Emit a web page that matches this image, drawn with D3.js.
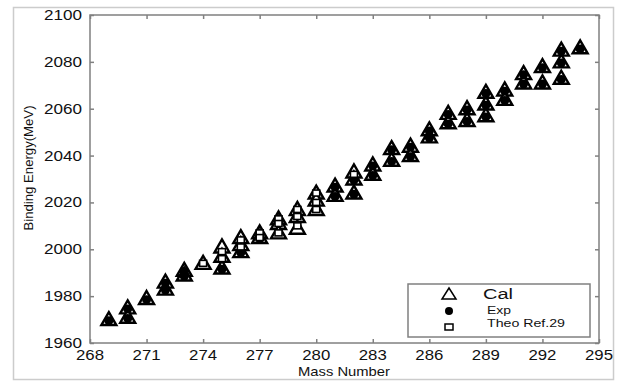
<!DOCTYPE html>
<html>
<head>
<meta charset="utf-8">
<script src="https://cdnjs.cloudflare.com/ajax/libs/d3/7.8.5/d3.min.js"></script>
<style>
  body { margin: 0; background: #fff; }
  text { font-family: "Liberation Sans", Arial, sans-serif; fill: #111; }
</style>
</head>
<body>
<div id="chart"></div>
<script>
// Calculated binding energies (triangles)
const calA  = [269, 270, 270, 271, 272, 272, 273, 273, 274, 275, 275, 275, 276, 276, 276, 277, 277,
               278, 278, 278, 279, 279, 279, 280, 280, 280, 281, 281, 282, 282, 282, 283, 283, 284, 284,
               285, 285, 286, 286, 287, 287, 288, 288, 289, 289, 289, 290, 290, 291, 291, 292, 292,
               293, 293, 293, 294];
const calBE = [1970, 1975, 1971, 1979, 1986, 1983, 1991, 1989, 1994, 2001, 1997, 1992, 2005, 2002, 1999, 2007, 2005,
               2013, 2011, 2007, 2017, 2014, 2009, 2024, 2021, 2017, 2027, 2023, 2033, 2030, 2024, 2036, 2032, 2043, 2038,
               2044, 2040, 2051, 2048, 2058, 2054, 2060, 2055, 2067, 2062, 2057, 2068, 2064, 2075, 2071, 2078, 2071,
               2085, 2080, 2073, 2086];
// Experimental (filled circles)
const expA  = [269, 270, 270, 271, 272, 272, 273, 273, 275, 276, 277, 281, 281, 282, 282, 283, 283, 284, 284, 285, 285,
               286, 286, 287, 287, 288, 288, 289, 289, 289, 290, 290, 291, 291, 292, 292, 293, 293, 293, 294];
const expBE = [1969.5, 1974.5, 1970.5, 1978.5, 1985.5, 1982.5, 1990.5, 1988.5, 1991.5, 1998.5, 2004.5,
               2026.5, 2022.5, 2029.5, 2023.5, 2035.5, 2031.5,
               2042.5, 2037.5, 2043.5, 2039.5, 2050.5, 2047.5, 2057.5, 2053.5, 2059.5, 2054.5, 2066.5, 2061.5, 2056.5,
               2067.5, 2063.5, 2074.5, 2070.5, 2077.5, 2070.5, 2084.5, 2079.5, 2072.5, 2085.5];
// Theoretical Ref.29 (open squares)
const theoA  = [274, 275, 275, 276, 276, 277, 277, 278, 278, 278, 279, 279, 279, 280, 280, 280, 282];
const theoBE = [1994, 1999, 1996, 2004, 2001, 2007, 2005, 2013, 2011, 2007, 2017, 2014, 2010, 2024, 2020, 2017, 2032];

const xTicks = [268, 271, 274, 277, 280, 283, 286, 289, 292, 295];
const yTicks = [1960, 1980, 2000, 2020, 2040, 2060, 2080, 2100];

const W = 621, H = 381;
const svg = d3.select("#chart").append("svg").attr("width", W).attr("height", H);

// outer frame
svg.append("rect").attr("x", 13.5).attr("y", 7.5).attr("width", 600).attr("height", 372)
  .attr("fill", "none").attr("stroke", "#ccc").attr("stroke-width", 1.5);

const x = d3.scaleLinear().domain([268, 295]).range([90, 599]);
const y = d3.scaleLinear().domain([1960, 2100]).range([343, 15]);

const axisColor = "#808080";
// axes with inward ticks
svg.append("g").attr("transform", "translate(0,343)")
  .call(d3.axisBottom(x).tickValues(xTicks).tickSize(-4).tickFormat(""))
  .call(g => g.select(".domain").remove());
svg.append("g").attr("transform", "translate(0,15)")
  .call(d3.axisTop(x).tickValues(xTicks).tickSize(-4).tickFormat(""))
  .call(g => g.select(".domain").remove());
svg.append("g").attr("transform", "translate(90,0)")
  .call(d3.axisLeft(y).tickValues(yTicks).tickSize(-4).tickFormat(""))
  .call(g => g.select(".domain").remove());
svg.append("g").attr("transform", "translate(599,0)")
  .call(d3.axisRight(y).tickValues(yTicks).tickSize(-4).tickFormat(""))
  .call(g => g.select(".domain").remove());
svg.selectAll(".tick line").attr("stroke", axisColor).attr("stroke-width", 1.5);

svg.append("rect").attr("x", 90).attr("y", 15).attr("width", 509).attr("height", 328)
  .attr("fill", "none").attr("stroke", axisColor).attr("stroke-width", 1.5);

// tick labels (stretched like the original)
svg.selectAll(".xl").data(xTicks).join("text")
  .attr("x", d => x(d)).attr("y", 360).attr("text-anchor", "middle")
  .attr("font-size", 14).attr("textLength", 28).attr("lengthAdjust", "spacingAndGlyphs")
  .text(d => d);
svg.selectAll(".yl").data(yTicks).join("text")
  .attr("x", 82).attr("y", d => y(d) + 5).attr("text-anchor", "end")
  .attr("font-size", 14).attr("textLength", 38).attr("lengthAdjust", "spacingAndGlyphs")
  .text(d => d);

svg.append("text").attr("x", 344).attr("y", 376).attr("text-anchor", "middle")
  .attr("font-size", 13).attr("textLength", 92).attr("lengthAdjust", "spacingAndGlyphs")
  .text("Mass Number");
svg.append("text").attr("transform", "translate(33,168) rotate(-90)").attr("text-anchor", "middle")
  .attr("font-size", 13).attr("textLength", 125).attr("lengthAdjust", "spacingAndGlyphs")
  .text("Binding Energy(MeV)");

const tri = "M0,-7.5L7.5,5.5L-7.5,5.5Z";
const plot = svg.append("g");

plot.selectAll(".cal").data(calA.map((a, i) => [a, calBE[i]])).join("path")
  .attr("d", tri).attr("transform", d => `translate(${x(d[0])},${y(d[1])})`)
  .attr("fill", "#fff").attr("stroke", "#000").attr("stroke-width", 2.4);
plot.selectAll(".exp").data(expA.map((a, i) => [a, expBE[i]])).join("circle")
  .attr("cx", d => x(d[0])).attr("cy", d => y(d[1])).attr("r", 4.5).attr("fill", "#000");
plot.selectAll(".theo").data(theoA.map((a, i) => [a, theoBE[i]])).join("rect")
  .attr("x", d => x(d[0]) - 3.5).attr("y", d => y(d[1]) - 3).attr("width", 7).attr("height", 6)
  .attr("fill", "#fff").attr("stroke", "#000").attr("stroke-width", 1.6);

// legend
const lg = svg.append("g");
lg.append("rect").attr("x", 408).attr("y", 284).attr("width", 182).attr("height", 53)
  .attr("fill", "#fff").attr("stroke", axisColor).attr("stroke-width", 1.5);
lg.append("path").attr("d", "M0,-6L7,5L-7,5Z").attr("transform", "translate(449,294)")
  .attr("fill", "#fff").attr("stroke", "#000").attr("stroke-width", 1.5);
lg.append("circle").attr("cx", 449).attr("cy", 311).attr("r", 4).attr("fill", "#000");
lg.append("rect").attr("x", 445).attr("y", 324).attr("width", 8).attr("height", 6)
  .attr("fill", "#fff").attr("stroke", "#000").attr("stroke-width", 1.5);
lg.append("text").attr("x", 483).attr("y", 299).attr("font-size", 14)
  .attr("textLength", 30).attr("lengthAdjust", "spacingAndGlyphs").text("Cal");
lg.append("text").attr("x", 487).attr("y", 314).attr("font-size", 10)
  .attr("textLength", 24).attr("lengthAdjust", "spacingAndGlyphs").text("Exp");
lg.append("text").attr("x", 487).attr("y", 327).attr("font-size", 10)
  .attr("textLength", 78).attr("lengthAdjust", "spacingAndGlyphs").text("Theo Ref.29");
</script>
</body>
</html>
